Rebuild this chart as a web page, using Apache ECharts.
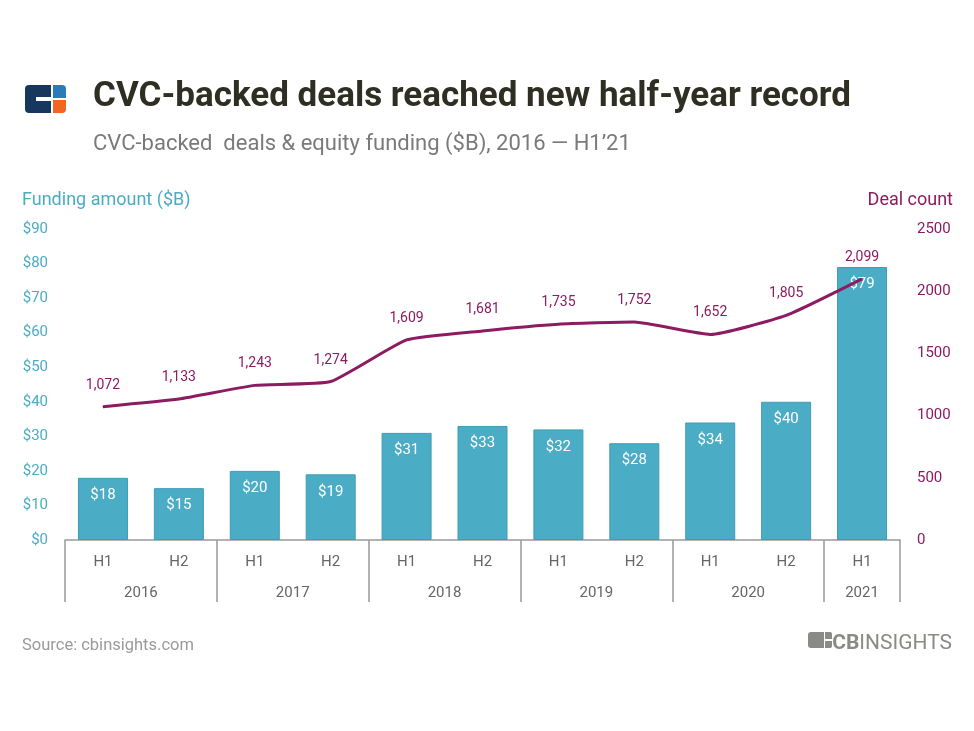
<!DOCTYPE html>
<html><head><meta charset="utf-8">
<script src="https://cdn.jsdelivr.net/npm/echarts@6/dist/echarts.min.js"></script>
<style>html,body{margin:0;padding:0;background:#fff}#c{width:974px;height:731px}</style>
</head><body><div id="c"></div>
<script>
const halves = ['H1','H2','H1','H2','H1','H2','H1','H2','H1','H2','H1'];
const years = ['2016','2017','2018','2019','2020','2021'];
const yearHalfCounts = [2,2,2,2,2,1];
const funding = [18,15,20,19,31,33,32,28,34,40,79];
const deals = [1072,1133,1243,1274,1609,1681,1735,1752,1652,1805,2099];
const fundingTicks = [0,90,10];
const dealTicks = [0,2500,500];

// year axis: points at every half-band (boundaryGap false)
const nSlots = halves.length * 2 + 1;
const yearSlots = new Array(nSlots).fill('');
const yearLabelIdx = {};
const yearTickIdx = {0:true};
let pos = 0;
years.forEach((y,i)=>{
  const c = yearHalfCounts[i];
  const center = pos*2 + c;
  yearSlots[center] = y; yearLabelIdx[center] = true;
  pos += c; yearTickIdx[pos*2] = true;
});

const teal = '#4bacc6', plum = '#8c1b62', grey = '#999';
const chart = echarts.init(document.getElementById('c'));
chart.setOption({
  animation:false,
  textStyle:{fontFamily:'Roboto'},
  title:[
    {text:'CVC-backed deals reached new half-year record', left:88, top:75,
     textStyle:{fontFamily:'Roboto', fontWeight:'bold', fontSize:35, color:'#2e2e22'}},
    {text:'CVC-backed  deals & equity funding ($B), 2016 \u2014 H1\u201921', left:88, top:128,
     textStyle:{fontFamily:'Roboto', fontWeight:'normal', fontSize:22, color:'#7a7a7a'}},
    {text:'Source: cbinsights.com', left:17, top:632,
     textStyle:{fontFamily:'Roboto', fontWeight:'normal', fontSize:16.5, color:'#9a9a9a'}},
    {text:'{b|CB}{l|INSIGHTS}', right:17, top:628,
     textStyle:{rich:{b:{fontFamily:'Roboto',fontWeight:'bold',fontSize:21,color:'#8a8a86'},
                      l:{fontFamily:'Roboto',fontWeight:'normal',fontSize:21,color:'#8a8a86'}}}}
  ],
  graphic:[
    {type:'rect', shape:{x:25,y:85,width:26,height:28,r:[4,0,0,4]}, style:{fill:'#17375e'}},
    {type:'rect', shape:{x:53,y:85,width:13,height:13,r:[0,4,0,0]}, style:{fill:'#2b7bb9'}},
    {type:'rect', shape:{x:53,y:100,width:13,height:13,r:[0,0,4,0]}, style:{fill:'#f26522'}},
    {type:'rect', shape:{x:36,y:97,width:17,height:4}, style:{fill:'#ffffff'}},
    {type:'rect', shape:{x:808,y:632,width:16,height:16,r:[3,0,0,3]}, style:{fill:'#8a8a86'}},
    {type:'rect', shape:{x:825,y:632,width:7,height:7,r:[0,2,0,0]}, style:{fill:'#8a8a86'}},
    {type:'rect', shape:{x:825,y:641,width:7,height:7,r:[0,0,2,0]}, style:{fill:'#8a8a86'}}
  ],
  grid:{left:65, right:74, top:229, bottom:191},
  xAxis:[
    {type:'category', data:halves, position:'bottom',
     axisLine:{show:true, lineStyle:{color:grey, width:1.5}},
     axisTick:{show:false},
     axisLabel:{color:'#666', fontSize:15, margin:15, fontFamily:'Roboto'}},
    {type:'category', data:yearSlots, position:'bottom', boundaryGap:false,
     axisLine:{show:false},
     axisTick:{show:true, length:62, interval:(i)=>!!yearTickIdx[i], lineStyle:{color:grey, width:1.5}},
     axisLabel:{color:'#666', fontSize:15, margin:46, interval:(i)=>!!yearLabelIdx[i], fontFamily:'Roboto'}}
  ],
  yAxis:[
    {type:'value', min:fundingTicks[0], max:fundingTicks[1], interval:fundingTicks[2],
     name:'Funding amount ($B)', nameLocation:'end', nameGap:20,
     nameTextStyle:{color:teal, fontSize:18, align:'left', padding:[0,0,0,-43], fontFamily:'Roboto'},
     axisLine:{show:false}, axisTick:{show:false}, splitLine:{show:false},
     axisLabel:{color:teal, fontSize:15, margin:17, formatter:v=>'$'+v, fontFamily:'Roboto'}},
    {type:'value', min:dealTicks[0], max:dealTicks[1], interval:dealTicks[2],
     name:'Deal count', nameLocation:'end', nameGap:20,
     nameTextStyle:{color:plum, fontSize:18, align:'right', padding:[0,-53,0,0], fontFamily:'Roboto'},
     axisLine:{show:false}, axisTick:{show:false}, splitLine:{show:false},
     axisLabel:{color:plum, fontSize:15, margin:17, formatter:v=>String(v), fontFamily:'Roboto'}}
  ],
  series:[
    {type:'bar', data:funding, xAxisIndex:0, yAxisIndex:0, barWidth:50,
     itemStyle:{color:teal, borderColor:'#3d9cb6', borderWidth:1},
     label:{show:true, position:'insideTop', distance:10, color:'#fff', fontSize:15, formatter:p=>'$'+p.value, fontFamily:'Roboto'}},
    {type:'line', data:deals, xAxisIndex:0, yAxisIndex:1, smooth:0.15, showSymbol:true, symbol:'circle', symbolSize:1,
     itemStyle:{color:plum}, lineStyle:{color:plum, width:3},
     label:{show:true, position:'top', distance:14, color:plum, fontSize:14,
            formatter:p=>p.value.toLocaleString('en-US'), fontFamily:'Roboto'}, z:5}
  ]
});
</script></body></html>
